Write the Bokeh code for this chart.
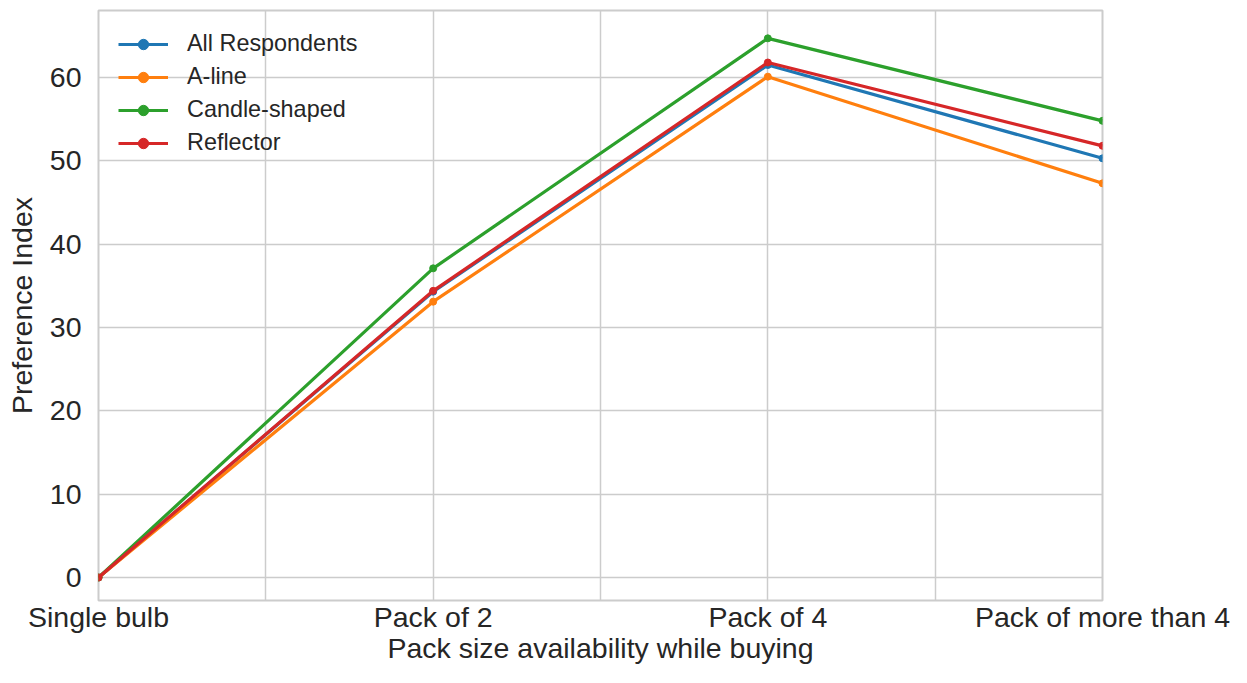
from bokeh.plotting import figure
from bokeh.models import Range1d, FixedTicker
from bokeh.embed import file_html
from bokeh.resources import INLINE

categories = ["Single bulb", "Pack of 2", "Pack of 4", "Pack of more than 4"]
series_names = ["All Respondents", "A-line", "Candle-shaped", "Reflector"]
all_respondents = [0.0, 34.3, 61.5, 50.3]
a_line = [0.0, 33.1, 60.1, 47.3]
candle_shaped = [0.0, 37.1, 64.7, 54.8]
reflector = [0.0, 34.4, 61.8, 51.8]
colors = ["#1f77b4", "#ff7f0e", "#2ca02c", "#d62728"]

xs = list(range(len(categories)))
series = [all_respondents, a_line, candle_shaped, reflector]

FONT = "Liberation Sans"
TXT = "#262626"

p = figure(width=1231, height=667, output_backend="svg", toolbar_location=None,
           x_range=Range1d(0, 3), y_range=Range1d(-2.76, 68.04),
           min_border_left=98, min_border_right=129, min_border_top=10, min_border_bottom=67)

for name, vals, c in zip(series_names, series, colors):
    p.line(xs, vals, line_color=c, line_width=3.2, legend_label=name)
    p.scatter(xs, vals, fill_color=c, line_color=c, size=7, legend_label=name)

p.xaxis.ticker = FixedTicker(ticks=[0, 0.5, 1, 1.5, 2, 2.5, 3])
overrides = {0.5: "", 1.5: "", 2.5: ""}
for i, c in enumerate(categories):
    overrides[i] = c
p.xaxis.major_label_overrides = overrides
p.yaxis.ticker = FixedTicker(ticks=[0, 10, 20, 30, 40, 50, 60])

p.xaxis.axis_label = "Pack size availability while buying"
p.yaxis.axis_label = "Preference Index"

for ax in (p.xaxis, p.yaxis):
    ax.axis_line_color = None
    ax.major_tick_line_color = None
    ax.minor_tick_line_color = None
    ax.major_tick_out = 0
    ax.major_tick_in = 0
    ax.minor_tick_out = 0
    ax.minor_tick_in = 0
    ax.major_label_text_font = FONT
    ax.major_label_text_font_size = "28.5px"
    ax.major_label_text_color = TXT
    ax.axis_label_text_font = FONT
    ax.axis_label_text_font_size = "28.5px"
    ax.axis_label_text_font_style = "normal"
    ax.axis_label_text_color = TXT
p.xaxis.major_label_standoff = 0
p.xaxis.axis_label_standoff = -4
p.yaxis.major_label_standoff = 17
p.yaxis.axis_label_standoff = 9

p.xgrid.grid_line_color = "#cccccc"
p.ygrid.grid_line_color = "#cccccc"
p.xgrid.grid_line_width = 1.5
p.ygrid.grid_line_width = 1.5
p.outline_line_color = "#cccccc"
p.outline_line_width = 2
p.background_fill_color = "white"
p.border_fill_color = "white"

lg = p.legend[0]
lg.location = "top_left"
lg.margin = 10
lg.padding = 10
lg.background_fill_alpha = 0
lg.border_line_alpha = 0
lg.label_text_font = FONT
lg.label_text_font_size = "23.4px"
lg.label_text_color = TXT
lg.glyph_width = 50
lg.glyph_height = 26
lg.label_height = 26
lg.spacing = 6
lg.label_standoff = 19

open("out.html", "w").write(file_html(p, INLINE))
